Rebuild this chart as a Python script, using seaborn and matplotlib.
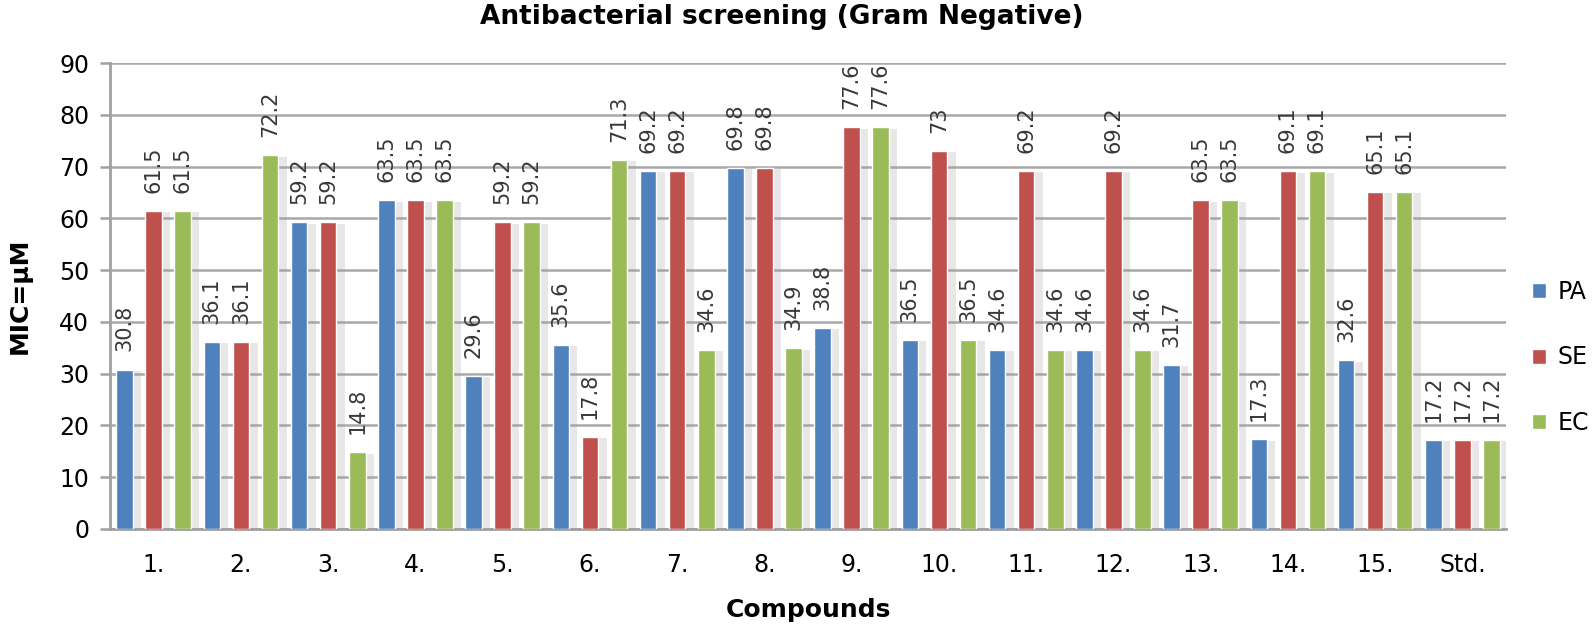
import pandas as pd
import matplotlib
matplotlib.use("Agg")
import matplotlib.pyplot as plt
import matplotlib.patheffects as pe
import seaborn as sns

# data
compounds = ["1.", "2.", "3.", "4.", "5.", "6.", "7.", "8.", "9.", "10.",
             "11.", "12.", "13.", "14.", "15.", "Std."]
pa = [30.8, 36.1, 59.2, 63.5, 29.6, 35.6, 69.2, 69.8, 38.8, 36.5,
      34.6, 34.6, 31.7, 17.3, 32.6, 17.2]
se = [61.5, 36.1, 59.2, 63.5, 59.2, 17.8, 69.2, 69.8, 77.6, 73.0,
      69.2, 69.2, 63.5, 69.1, 65.1, 17.2]
ec = [61.5, 72.2, 14.8, 63.5, 59.2, 71.3, 34.6, 34.9, 77.6, 36.5,
      34.6, 34.6, 63.5, 69.1, 65.1, 17.2]
strains = ["PA", "SE", "EC"]

df = pd.DataFrame({
    "Compound": compounds * 3,
    "MIC": pa + se + ec,
    "Strain": [s for s in strains for _ in compounds],
})

sns.set_theme(style="white")
plt.rcParams["font.family"] = ["DejaVu Sans"]
plt.rcParams["text.color"] = "black"
plt.rcParams["axes.labelcolor"] = "black"
plt.rcParams["xtick.labelcolor"] = "black"
plt.rcParams["ytick.labelcolor"] = "black"

fig = plt.figure(figsize=(15.95, 6.27), dpi=100)
ax = fig.add_axes([0.069, 0.1563, 0.8752, 0.7432])

palette = {"PA": "#4F81BD", "SE": "#C0504D", "EC": "#9BBB59"}
sns.barplot(data=df, x="Compound", y="MIC", hue="Strain", order=compounds,
            hue_order=strains, palette=palette, width=1.0, gap=0.43,
            saturation=1, ax=ax, legend=True, zorder=3)

# excel style drop shadow on the bars
for patch in ax.patches:
    patch.set_path_effects([
        pe.SimplePatchShadow(offset=(6, -1), shadow_rgbFace="#a0a0a0", alpha=0.25),
        pe.Normal(),
    ])

for cont in ax.containers:
    labels = [f"{b.get_height():g}" for b in cont]
    ax.bar_label(cont, labels=labels, rotation=90, padding=13,
                 fontsize=15, color="#383838")

ax.set_ylim(0, 90)
ax.set_xlim(-0.5, len(compounds) - 0.5)
ax.set_yticks(range(0, 91, 10))
ax.yaxis.grid(True, color="#a8a8a8", linewidth=1.8, zorder=0)
ax.set_axisbelow(True)

for side in ["top", "right"]:
    ax.spines[side].set_visible(False)
for side in ["left", "bottom"]:
    ax.spines[side].set_color("#a0a0a0")
    ax.spines[side].set_linewidth(2)

ax.tick_params(axis="y", length=7, width=1.8, color="#a0a0a0",
               labelsize=17, pad=8, left=True)
ax.tick_params(axis="x", length=0, labelsize=17, pad=17)

ax.set_ylabel("MIC=µM", fontsize=18, fontweight="bold")
ax.yaxis.set_label_coords(-0.056, 0.5)
ax.set_xlabel("Compounds", fontsize=18, fontweight="bold")
ax.xaxis.set_label_coords(0.5, -0.148)

fig.text(0.49, 1 - 17 / 627, "Antibacterial screening (Gram Negative)",
         ha="center", va="center", fontsize=19, fontweight="bold")

handles, lbls = ax.get_legend_handles_labels()
ax.legend_.remove()
leg = fig.legend(handles, lbls, loc="center left", bbox_to_anchor=(0.947, 0.43),
                 frameon=False, fontsize=17, handlelength=0.6, handleheight=0.6,
                 handletextpad=0.5, labelspacing=1.75)
for h in leg.legend_handles:
    h.set_path_effects([])

fig.savefig("out.png", dpi=100)
